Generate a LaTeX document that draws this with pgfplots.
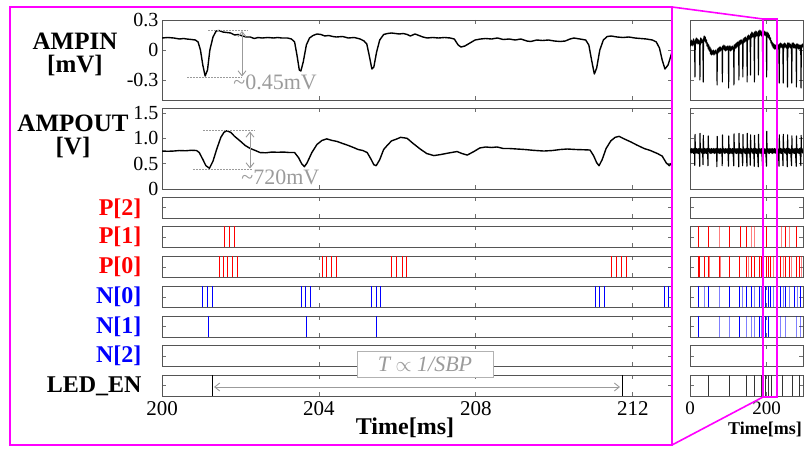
\documentclass[border=0pt]{standalone}
\usepackage{fontspec}
\setmainfont{Liberation Serif}
\usepackage{pgfplots}
\pgfplotsset{compat=1.18}
\usetikzlibrary{arrows.meta}

\definecolor{framec}{RGB}{85,85,85}
\definecolor{tickc}{RGB}{110,110,110}
\definecolor{annc}{RGB}{155,155,155}
\definecolor{pred}{RGB}{255,0,0}
\definecolor{nblue}{RGB}{0,0,255}
\definecolor{mag}{RGB}{255,0,255}

\pgfplotsset{
  panel/.style={
    scale only axis, anchor=north west,
    axis line style={draw=framec, line width=0.9pt},
    tick style={draw=tickc, line width=0.7pt},
    tick align=inside, major tick length=4pt,
    xticklabels={}, yticklabels={},
    /pgf/number format/assume math mode=true,
    tick label style={font=\fontsize{20}{20}\selectfont},
  },
  mainp/.style={panel, width=510pt, xmin=200, xmax=213, xtick={204,208,212}},
  rightp/.style={panel, width=113pt, xmin=0, xmax=295, xtick={200}},
  row/.style={height=21pt, ymin=0, ymax=1, ytick={0.5}},
  trace/.style={black, line width=1.4pt, line join=round},
  spk/.style={ycomb, line width=1pt},
}

\begin{document}
\begin{tikzpicture}
\useasboundingbox (0,0) rectangle (807pt,-449pt);

% ---------------- main window, 200..213 ms ----------------
\begin{axis}[mainp, at={(162pt,-20pt)}, height=80pt, ymin=-0.5, ymax=0.3,
  ytick={-0.3,0,0.3}, yticklabels={-0.3,0,0.3}]
\addplot[trace] coordinates {
(200.00,0.12) (200.15,0.125) (200.30,0.12) (200.45,0.11) (200.55,0.115) (200.63,0.11)
(200.75,0.105) (200.85,0.10) (200.92,0.08) (200.98,0.0) (201.04,-0.15) (201.10,-0.26)
(201.16,-0.20) (201.22,0.0) (201.30,0.13) (201.38,0.19) (201.45,0.195) (201.55,0.18)
(201.65,0.175) (201.75,0.17) (201.85,0.15) (201.95,0.155) (202.05,0.14) (202.15,0.13)
(202.25,0.13) (202.35,0.115) (202.45,0.125) (202.55,0.12) (202.70,0.125) (202.85,0.12)
(202.95,0.125) (203.05,0.12) (203.20,0.12) (203.30,0.11) (203.38,0.08) (203.44,-0.05)
(203.50,-0.20) (203.54,-0.21) (203.60,-0.12) (203.68,0.05) (203.76,0.12) (203.85,0.145)
(203.95,0.16) (204.05,0.155) (204.15,0.14) (204.25,0.145) (204.35,0.135) (204.45,0.13)
(204.60,0.135) (204.75,0.12) (204.90,0.125) (205.05,0.11) (205.15,0.09) (205.22,0.06)
(205.28,-0.05) (205.35,-0.19) (205.40,-0.17) (205.47,-0.02) (205.55,0.10) (205.65,0.155)
(205.75,0.165) (205.85,0.17) (205.95,0.165) (206.05,0.16) (206.15,0.165) (206.25,0.155)
(206.33,0.14) (206.45,0.16) (206.55,0.145) (206.65,0.13) (206.76,0.12) (206.90,0.125)
(207.05,0.12) (207.20,0.125) (207.35,0.12) (207.45,0.11) (207.55,0.05) (207.62,0.03)
(207.72,0.04) (207.85,0.07) (207.98,0.10) (208.12,0.11) (208.25,0.115) (208.40,0.11)
(208.55,0.12) (208.70,0.105) (208.85,0.11) (209.00,0.10) (209.15,0.11) (209.30,0.09)
(209.40,0.085) (209.55,0.10) (209.70,0.095) (209.85,0.10) (210.00,0.09) (210.15,0.085)
(210.28,0.09) (210.40,0.11) (210.50,0.12) (210.65,0.11) (210.80,0.10) (210.88,0.05)
(210.95,-0.10) (211.02,-0.24) (211.08,-0.18) (211.16,0.0) (211.25,0.10) (211.35,0.135)
(211.45,0.14) (211.60,0.13) (211.75,0.125) (211.90,0.13) (212.05,0.12) (212.20,0.115)
(212.35,0.11) (212.50,0.10) (212.60,0.08) (212.68,0.02) (212.75,-0.10) (212.82,-0.19)
(212.90,-0.15) (212.97,-0.06) (213.00,-0.02)
};
\end{axis}

\begin{axis}[mainp, at={(162pt,-108pt)}, height=81pt, ymin=0, ymax=1.6,
  ytick={0,0.5,1,1.5}, yticklabels={0,0.5,1.0,1.5}]
\addplot[trace] coordinates {
(200.00,0.75) (200.15,0.745) (200.30,0.75) (200.45,0.76) (200.60,0.755) (200.75,0.765)
(200.88,0.76) (200.95,0.72) (201.03,0.60) (201.12,0.46) (201.21,0.41) (201.30,0.55)
(201.40,0.80) (201.50,1.02) (201.58,1.12) (201.65,1.15) (201.75,1.12) (201.85,1.04)
(201.99,0.95) (202.12,0.86) (202.25,0.80) (202.38,0.76) (202.50,0.72) (202.65,0.715)
(202.80,0.73) (202.95,0.725) (203.10,0.73) (203.25,0.72) (203.38,0.72) (203.48,0.62)
(203.56,0.50) (203.63,0.44) (203.70,0.52) (203.82,0.72) (203.95,0.88) (204.08,0.96)
(204.20,0.99) (204.33,0.96) (204.46,0.94) (204.60,0.90) (204.75,0.86) (204.88,0.82)
(205.00,0.78) (205.12,0.76) (205.23,0.72) (205.32,0.60) (205.40,0.48) (205.46,0.46)
(205.55,0.58) (205.65,0.78) (205.74,0.86) (205.85,0.95) (205.99,0.99) (206.08,1.02)
(206.18,1.01) (206.25,1.0) (206.40,0.90) (206.59,0.785) (206.75,0.70) (206.93,0.66)
(207.10,0.68) (207.30,0.71) (207.52,0.74) (207.65,0.70) (207.78,0.67) (207.95,0.74)
(208.10,0.81) (208.25,0.83) (208.40,0.82) (208.54,0.83) (208.70,0.80) (208.85,0.80)
(209.05,0.79) (209.25,0.78) (209.45,0.765) (209.73,0.75) (209.95,0.76) (210.15,0.78)
(210.33,0.79) (210.55,0.78) (210.75,0.775) (210.91,0.77) (211.00,0.66) (211.08,0.52)
(211.14,0.46) (211.22,0.58) (211.32,0.80) (211.44,0.95) (211.55,1.02) (211.65,1.04)
(211.78,0.99) (211.95,0.93) (212.10,0.87) (212.29,0.80) (212.45,0.76) (212.63,0.70)
(212.75,0.65) (212.85,0.52) (212.93,0.46) (213.00,0.52)
};
\end{axis}

% P[2]
\begin{axis}[mainp, row, at={(162pt,-197pt)}]
\addplot[draw=none] coordinates {(200,0)};
\end{axis}
% P[1]
\begin{axis}[mainp, row, at={(162pt,-226.5pt)}]
\addplot[spk, pred] coordinates {(201.59,1) (201.72,1) (201.85,1)};
\end{axis}
% P[0]
\begin{axis}[mainp, row, at={(162pt,-256.5pt)}]
\addplot[spk, pred] coordinates {
(201.46,1) (201.57,1) (201.68,1) (201.80,1) (201.92,1)
(204.08,1) (204.20,1) (204.33,1) (204.46,1)
(205.86,1) (205.99,1) (206.12,1) (206.23,1)
(211.46,1) (211.58,1) (211.71,1) (211.84,1)};
\end{axis}
% N[0]
\begin{axis}[mainp, row, at={(162pt,-286.5pt)}]
\addplot[spk, nblue] coordinates {
(201.04,1) (201.16,1) (201.28,1)
(203.55,1) (203.67,1) (203.79,1)
(205.34,1) (205.46,1) (205.57,1)
(211.04,1) (211.16,1) (211.28,1)
(212.82,1) (212.92,1)};
\end{axis}
% N[1]
\begin{axis}[mainp, row, at={(162pt,-316pt)}]
\addplot[spk, nblue] coordinates {(201.18,1) (203.69,1) (205.47,1)};
\end{axis}
% N[2]
\begin{axis}[mainp, row, at={(162pt,-345.5pt)}]
\addplot[draw=none] coordinates {(200,0)};
\end{axis}
% LED_EN
\begin{axis}[mainp, row, at={(162pt,-375pt)},
  xtick={200,204,208,212}, xticklabels={200,204,208,212},
  xticklabel style={font=\fontsize{21}{21}\selectfont, yshift=-2pt}]
\addplot[spk, black, line width=1.1pt] coordinates {(201.28,1) (211.74,1)};
\end{axis}

% ---------------- zoomed-out window, 0..295 ms ----------------
\begin{axis}[rightp, at={(690pt,-20pt)}, height=80pt, ymin=-0.5, ymax=0.3, ytick={-0.3,0,0.3}]
\addplot[trace, line width=1.1pt] coordinates {
(0,0.09) (1.5,0.04) (3,0.10) (4.5,0.05) (6,0.09) (7.5,0.04) (9,0.11) (10.5,0.06) (12,0.08)
(12.9,-0.27) (13.8,0.10) (15,0.06) (16.5,0.12) (18,0.07) (19.5,0.11) (21,0.06) (22.5,0.10)
(24,0.07) (25.1,0.06) (25.9,-0.30) (26.7,0.09) (28,0.12) (29.5,0.07) (31,0.11) (32.5,0.08)
(33.7,0.07) (34.5,-0.32) (35.3,0.10) (37,0.14) (38.5,0.09) (40,0.13) (41.5,0.07) (43,0.10)
(44.5,0.04) (46,0.07) (47.5,0.01) (49,0.05) (50.5,-0.01) (52,0.03) (53.5,-0.04) (55,0.01)
(56.5,-0.05) (58,-0.01) (59.5,-0.04) (61,0.0) (62.5,-0.05) (64,-0.01) (65.5,-0.04) (67,0.0)
(68.5,-0.03) (69.9,-0.02) (70.7,-0.35) (71.5,0.01) (73,-0.03) (74.5,0.02) (76,-0.02)
(77.5,0.03) (79,-0.01) (80.5,0.03) (82,0.0) (83.7,0.02) (84.5,-0.32) (85.3,0.04) (87,0.01)
(88.5,0.05) (90,0.0) (91.5,0.04) (93,-0.01) (94.5,0.03) (96,0.0) (97.5,0.04) (99,0.0)
(100.1,0.03) (100.9,-0.38) (101.7,0.04) (103,0.0) (104.5,0.04) (106,-0.01) (107.5,0.03)
(109,0.0) (110.5,0.04) (112,0.01) (113.9,0.03) (114.7,-0.35) (115.5,0.05) (117,0.01)
(118.5,0.06) (120,0.02) (121.5,0.07) (123,0.03) (124.5,0.08) (126,0.04) (126.9,0.07)
(127.7,-0.30) (128.5,0.09) (130,0.05) (131.5,0.10) (133,0.06) (134.5,0.10) (136,0.07)
(137.2,0.09) (138,-0.27) (138.8,0.11) (140,0.07) (141.5,0.12) (143,0.08) (144.5,0.13)
(146,0.09) (148.4,0.12) (149.2,-0.32) (150,0.14) (151.5,0.10) (153,0.15) (154.5,0.11)
(156,0.14) (157.1,0.12) (157.9,-0.25) (158.7,0.16) (160,0.12) (161.5,0.18) (163,0.13)
(164.5,0.17) (166,0.13) (167.4,0.16) (168.2,-0.32) (169,0.18) (170.5,0.13) (172,0.19)
(173.5,0.14) (175,0.18) (176.5,0.14) (177.8,0.17) (178.6,-0.25) (179.4,0.19) (181,0.14)
(182.5,0.20) (184,0.15) (185.5,0.19) (187,0.14) (189,0.18) (189.8,-0.23) (190.6,0.19)
(192,0.14) (193.5,0.19) (195,0.15) (196.5,0.18) (198,0.14) (199.3,0.17) (200.1,-0.27)
(200.9,0.18) (202.5,0.13) (204,0.17) (205.5,0.12) (207,0.15) (208.5,0.10) (210,0.12)
(211.5,0.07) (213,0.09) (214.5,0.04) (216,0.07) (217.5,0.02) (219,0.06) (220.5,0.01)
(222,0.05) (223.5,0.01) (225,0.05) (226.5,0.0) (228,0.04) (229.5,0.01) (231,0.05)
(232.1,0.02) (232.9,-0.33) (233.7,0.06) (235,0.02) (236.5,0.07) (238,0.03) (239.5,0.06)
(241,0.02) (242.5,0.05) (243.3,-0.33) (244.1,0.06) (245.5,0.02) (247,0.07) (248.5,0.03)
(250,0.06) (251.5,0.02) (253.7,0.05) (254.5,-0.37) (255.3,0.07) (257,0.02) (258.5,0.07)
(260,0.03) (261.5,0.06) (263,0.02) (264.9,0.05) (265.7,-0.33) (266.5,0.07) (268,0.03)
(269.5,0.07) (271,0.02) (272.5,0.06) (274,0.02) (275.5,0.05) (277,0.03) (277.8,-0.37)
(278.6,0.06) (280,0.02) (281.5,0.06) (283,0.01) (284.5,0.05) (286,0.01) (287.5,0.05)
(289.1,0.02) (289.9,-0.38) (290.7,0.05) (292,0.02) (293.5,0.06) (295,0.03)
};
\end{axis}

\begin{axis}[rightp, at={(690pt,-108pt)}, height=81pt, ymin=0, ymax=1.6, ytick={0.5,1,1.5}]
\addplot[trace, line width=1.1pt] coordinates {
(0,0.72) (1.5,0.79) (3,0.71) (4.5,0.80) (6,0.72) (7.5,0.79) (9,0.70) (10.5,0.80) (12,0.72)
(12.4,0.47) (13.2,1.08) (14,0.76) (15.5,0.71) (17,0.80) (18.5,0.71) (20,0.79) (21.5,0.70)
(23,0.80) (24.5,0.72) (25.4,0.45) (26.2,1.10) (27,0.74) (28.5,0.80) (30,0.71) (31.5,0.79)
(33,0.72) (34,0.48) (34.8,1.06) (35.6,0.76) (37,0.70) (38.5,0.80) (40,0.71) (41.5,0.79)
(43,0.70) (44.5,0.80) (46,0.72) (46.9,0.46) (47.7,1.05) (48.5,0.74) (50,0.80) (51.5,0.71)
(53,0.79) (54.5,0.70) (56,0.80) (57.5,0.71) (59,0.79) (60.5,0.72) (62,0.80) (63.5,0.70)
(65,0.79) (66.5,0.71) (68,0.80) (69.5,0.72) (70.2,0.44) (71,1.04) (71.8,0.75) (73,0.80)
(74.5,0.71) (76,0.79) (77.5,0.70) (79,0.80) (80.5,0.71) (82,0.79) (83.5,0.72) (84,0.46)
(84.8,1.07) (85.6,0.74) (87,0.80) (88.5,0.71) (90,0.79) (91.5,0.70) (93,0.80) (94.5,0.72)
(96,0.79) (97.5,0.71) (99,0.80) (100.4,0.45) (101.2,1.05) (102,0.76) (103.5,0.70)
(105,0.80) (106.5,0.71) (108,0.79) (109.5,0.70) (111,0.80) (112.5,0.72) (114.2,0.46)
(115,1.09) (115.8,0.74) (117,0.80) (118.5,0.71) (120,0.79) (121.5,0.70) (123,0.80)
(124.5,0.71) (126,0.79) (127.2,0.44) (128,1.10) (128.8,0.75) (130,0.71) (131.5,0.80)
(133,0.70) (134.5,0.79) (136,0.72) (137.5,0.46) (138.3,1.08) (139.1,0.74) (140.5,0.80)
(142,0.71) (143.5,0.79) (145,0.70) (146.5,0.80) (148.7,0.45) (149.5,1.10) (150.3,0.75)
(151.5,0.71) (153,0.80) (154.5,0.70) (156,0.79) (157.4,0.47) (158.2,1.07) (159,0.74)
(160.5,0.80) (162,0.71) (163.5,0.79) (165,0.70) (166.5,0.80) (167.7,0.45) (168.5,1.06)
(169.3,0.75) (170.5,0.71) (172,0.80) (173.5,0.70) (175,0.79) (176.5,0.71) (178.1,0.44)
(178.9,1.08) (179.7,0.74) (181,0.80) (182.5,0.70) (184,0.79) (185.5,0.71) (187,0.80)
(189.3,0.46) (190.1,1.04) (190.9,0.75) (192,0.71) (193.5,0.80) (195,0.70) (196.5,0.79)
(198,0.71) (199.6,0.45) (200.4,1.14) (201.2,0.74) (202.5,0.80) (204,0.71) (205.5,0.79)
(207,0.70) (208.5,0.80) (210,0.72) (211.5,0.79) (213,0.71) (214.5,0.80) (216,0.70)
(217.5,0.79) (219,0.72) (220.5,0.80) (222,0.71) (223.5,0.79) (225,0.70) (226.5,0.80)
(228,0.71) (229.5,0.79) (231,0.70) (232.4,0.45) (233.2,1.07) (234,0.76) (235.5,0.71)
(237,0.80) (238.5,0.70) (240,0.79) (241.5,0.71) (242.8,0.46) (243.6,1.08) (244.4,0.74)
(246,0.80) (247.5,0.71) (249,0.79) (250.5,0.70) (252,0.80) (254,0.44) (254.8,1.07)
(255.6,0.75) (257,0.71) (258.5,0.80) (260,0.70) (261.5,0.79) (263,0.71) (265.2,0.46)
(266,1.05) (266.8,0.74) (268,0.80) (269.5,0.71) (271,0.79) (272.5,0.70) (274,0.80)
(275.5,0.71) (277.3,0.45) (278.1,1.05) (278.9,0.75) (280,0.80) (281.5,0.71) (283,0.79)
(284.5,0.70) (286,0.80) (287.5,0.71) (289.4,0.46) (290.2,1.06) (291,0.74) (292.5,0.80)
(294,0.71) (295,0.78)
};
\end{axis}

% P[2]
\begin{axis}[rightp, row, at={(690pt,-197pt)}]
\addplot[draw=none] coordinates {(0,0)};
\end{axis}
% P[1]
\begin{axis}[rightp, row, at={(690pt,-226.5pt)}]
\addplot[spk, pred] coordinates {(21.7,1) (48.6,1) (104.2,1) (131.1,1) (148.4,1) (199.6,1) (248.3,1) (277.8,1)};
\addplot[spk, pred, opacity=0.5] coordinates {(76.4,1) (159.7,1) (168.4,1) (239.6,1) (260.4,1)};
\end{axis}
% P[0]
\begin{axis}[rightp, row, at={(690pt,-256.5pt)}]
\addplot[spk, pred] coordinates {(21.7,1) (26.0,1) (37.3,1) (48.6,1) (76.4,1) (104.2,1) (130.2,1)
 (147.6,1) (159.7,1) (167.5,1) (182.3,1) (185.8,1) (199.6,1) (204.9,1) (210.9,1) (237,1)
 (248.3,1) (260.4,1) (277.8,1) (284.7,1)};
\addplot[spk, pred, opacity=0.5] coordinates {(52.1,1) (80.7,1) (152.8,1) (189.2,1) (217,1) (243,1) (265.6,1) (291.6,1)};
\end{axis}
% N[0]
\begin{axis}[rightp, row, at={(690pt,-286.5pt)}]
\addplot[spk, nblue] coordinates {(21.7,1) (48.6,1) (104.2,1) (130.2,1) (147.6,1) (159.7,1) (182.3,1)
 (197.9,1) (204.9,1) (210.9,1) (237,1) (248.3,1) (271.7,1) (289,1)};
\addplot[spk, nblue, opacity=0.5] coordinates {(37.3,1) (76.4,1) (137.2,1) (167.5,1) (187.5,1) (217,1) (243,1) (258.7,1) (280.4,1)};
\end{axis}
% N[1]
\begin{axis}[rightp, row, at={(690pt,-316pt)}]
\addplot[spk, nblue] coordinates {(21.7,1) (130.2,1) (182.3,1) (197.9,1) (204.9,1)};
\addplot[spk, nblue, opacity=0.5] coordinates {(76.4,1) (104.2,1) (147.6,1) (159.7,1) (167.5,1) (187.5,1) (237,1) (248.3,1) (277.8,1) (289,1)};
\end{axis}
% N[2]
\begin{axis}[rightp, row, at={(690pt,-345.5pt)}]
\addplot[draw=none] coordinates {(0,0)};
\end{axis}
% LED_EN
\begin{axis}[rightp, row, at={(690pt,-375pt)},
  xtick={0,200}, xticklabels={0,200},
  xticklabel style={font=\fontsize{19}{19}\selectfont, yshift=-2pt}]
\addplot[spk, black!80] coordinates {(48.6,1) (104.2,1) (148.4,1) (169.3,1) (187.5,1) (197.9,1)
 (204.9,1) (211.8,1) (241.3,1) (267.3,1) (284.7,1)};
\end{axis}

% ---------------- labels ----------------
\begin{scope}[font=\bfseries\fontsize{24}{23}\selectfont]
\node[align=center, font=\bfseries\fontsize{25}{23}\selectfont] at (75pt,-54pt) {AMPIN\\{[}mV]};
\node[align=center, font=\bfseries\fontsize{25}{23}\selectfont] at (73pt,-136pt) {AMPOUT\\{[}V]};
\node[anchor=east, text=pred] at (145pt,-208.5pt) {P[2]};
\node[anchor=east, text=pred] at (145pt,-237pt) {P[1]};
\node[anchor=east, text=pred] at (145pt,-267pt) {P[0]};
\node[anchor=east, text=nblue] at (145pt,-297pt) {N[0]};
\node[anchor=east, text=nblue] at (145pt,-326.5pt) {N[1]};
\node[anchor=east, text=nblue] at (145pt,-356pt) {N[2]};
\node[anchor=east] at (145pt,-386pt) {LED\_EN};
\node at (405pt,-428pt) {Time[ms]};
\node[font=\bfseries\fontsize{18}{18}\selectfont] at (765pt,-429pt) {Time[ms]};
\end{scope}

% ---------------- annotations ----------------
\begin{scope}[annc, line width=0.9pt]
\draw[dashed, dash pattern=on 2pt off 1pt] (208pt,-30pt) -- (248pt,-30pt);
\draw[dashed, dash pattern=on 2pt off 1pt] (187pt,-77.3pt) -- (242pt,-77.3pt);
\draw[{Straight Barb[length=5pt,width=8pt]}-{Straight Barb[length=5pt,width=8pt]}] (242pt,-31pt) -- (242pt,-76.5pt);
\node[anchor=west, inner sep=0pt, font=\fontsize{22}{22}\selectfont] at (233pt,-82pt) {\textasciitilde0.45mV};
\draw[dashed, dash pattern=on 2pt off 1pt] (203pt,-130.7pt) -- (255pt,-130.7pt);
\draw[dashed, dash pattern=on 2pt off 1pt] (193pt,-169.3pt) -- (252pt,-169.3pt);
\draw[{Straight Barb[length=5pt,width=8pt]}-{Straight Barb[length=5pt,width=8pt]}] (250pt,-131.5pt) -- (250pt,-168.5pt);
\node[anchor=west, inner sep=0pt, font=\fontsize{22}{22}\selectfont] at (241pt,-177.5pt) {\textasciitilde720mV};
\draw[{Straight Barb[length=5pt,width=8pt]}-{Straight Barb[length=5pt,width=8pt]}] (214pt,-387pt) -- (620pt,-387pt);
\draw[fill=white, draw=black!30, line width=0.8pt] (357pt,-351pt) rectangle (493pt,-377pt);
\node[text=annc, font=\fontsize{22}{22}\selectfont] at (425pt,-364pt) {\itshape T $\propto$ 1/SBP};
\end{scope}

% ---------------- magenta zoom frame ----------------
\begin{scope}[mag, line width=1.6pt]
\draw (10pt,-7pt) rectangle (672pt,-445pt);
\draw (672pt,-7pt) -- (763pt,-19pt);
\draw (672pt,-445pt) -- (763pt,-397pt);
\draw (763pt,-19pt) rectangle (777pt,-397pt);
\end{scope}
\end{tikzpicture}
\end{document}
